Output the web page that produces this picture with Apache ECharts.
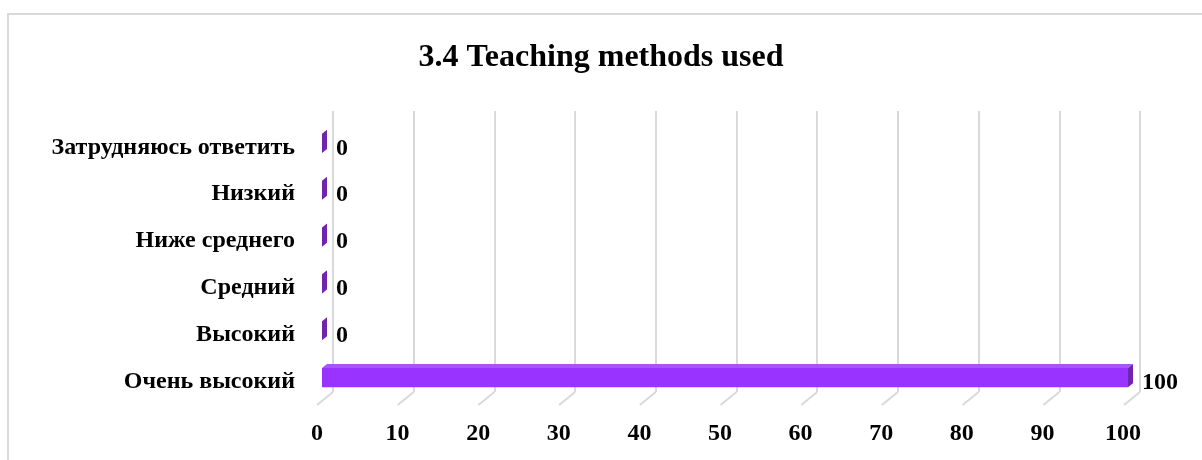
<!DOCTYPE html>
<html><head><meta charset="utf-8">
<script src="https://cdn.jsdelivr.net/npm/echarts@6/dist/echarts.min.js"></script>
<style>html,body{margin:0;padding:0;background:#fff}#c{width:1202px;height:460px}</style>
</head><body><div id="c"></div>
<script>
const titleText = '3.4 Teaching methods used';
const categories = ['Очень высокий','Высокий','Средний','Ниже среднего','Низкий','Затрудняюсь ответить'];
const values = [100,0,0,0,0,0];
const xTicks = [0,10,20,30,40,50,60,70,80,90,100];

const FONT = '"Liberation Serif","Times New Roman",serif';
const DX = 16, DY = 13; // floor depth
const chart = echarts.init(document.getElementById('c'));

function bar3d(params, api){
  const cat = api.value(0), v = api.value(1);
  const p0 = api.coord([0, cat]);
  const p1 = api.coord([v, cat]);
  const bandH = api.size([0,1])[1];
  const h = bandH*0.41;
  const fx = 5, fy = -4, bx = 10, by = -8;
  const x0 = p0[0]+fx, x1 = p1[0]+fx;
  const yc = p0[1]+fy;
  const yt = yc - h/2, yb = yc + h/2;
  const ddx = bx-fx, ddy = by-fy;
  const children = [];
  if (x1 - x0 > 0.5) {
    children.push({type:'rect', shape:{x:x0,y:yt,width:x1-x0,height:h}, style:{fill:'#9933ff'}});
    children.push({type:'polygon', shape:{points:[[x0,yt],[x1,yt],[x1+ddx,yt+ddy],[x0+ddx,yt+ddy]]}, style:{fill:'#a855f7'}});
  }
  children.push({type:'polygon', shape:{points:[[x1,yt],[x1+ddx,yt+ddy],[x1+ddx,yb+ddy],[x1,yb]]}, style:{fill:'#6f25b0'}});
  children.push({type:'text', x:x1+ddx+9, y:p0[1]+1, style:{text:String(v), font:'bold 24px '+FONT, fill:'#000', verticalAlign:'middle', align:'left'}});
  return {type:'group', children};
}

function floorTicks(params, api){
  const v = api.value(0);
  const p = api.coord([v, 0]);
  const cs = params.coordSys;
  const yb = cs.y + cs.height;
  return {type:'polyline', shape:{points:[[p[0], yb],[p[0]-DX, yb+DY]]}, style:{stroke:'#d9d9d9', lineWidth:2, fill:null}};
}

chart.setOption({
  animation:false,
  title:{text:titleText, left:'center', top:37, textStyle:{fontFamily:FONT, fontWeight:'bold', fontSize:32, color:'#000'}},
  graphic:[{type:'rect', shape:{x:8,y:14,width:1300,height:600}, style:{fill:null, stroke:'#d9d9d9', lineWidth:2}, silent:true}],
  grid:[
    {left:333, right:62, top:111, bottom:68},
    {left:317, right:79, top:124, bottom:55}
  ],
  xAxis:[
    {gridIndex:0, type:'value', min:0, max:100, interval:10, axisLabel:{show:false}, axisLine:{show:false}, axisTick:{show:false},
     splitLine:{show:true, lineStyle:{color:'#d9d9d9', width:2}}},
    {gridIndex:1, type:'value', min:0, max:100, interval:10, axisLine:{show:false}, axisTick:{show:false}, splitLine:{show:false},
     axisLabel:{margin:17, fontFamily:FONT, fontWeight:'bold', fontSize:24, color:'#000', formatter:(v)=>xTicks.includes(v)?String(v):''}}
  ],
  yAxis:[
    {gridIndex:0, type:'category', data:categories, show:false},
    {gridIndex:1, type:'category', data:categories, axisLine:{show:false}, axisTick:{show:false},
     axisLabel:{margin:22, fontFamily:FONT, fontWeight:'bold', fontSize:24, color:'#000'}}
  ],
  series:[
    {type:'custom', xAxisIndex:0, yAxisIndex:0, data:xTicks.map(v=>[v]), renderItem:floorTicks, silent:true},
    {type:'custom', xAxisIndex:1, yAxisIndex:1, data:values.map((v,i)=>[i,v]), renderItem:bar3d, encode:{x:1,y:0}, silent:true}
  ]
});
</script></body></html>
